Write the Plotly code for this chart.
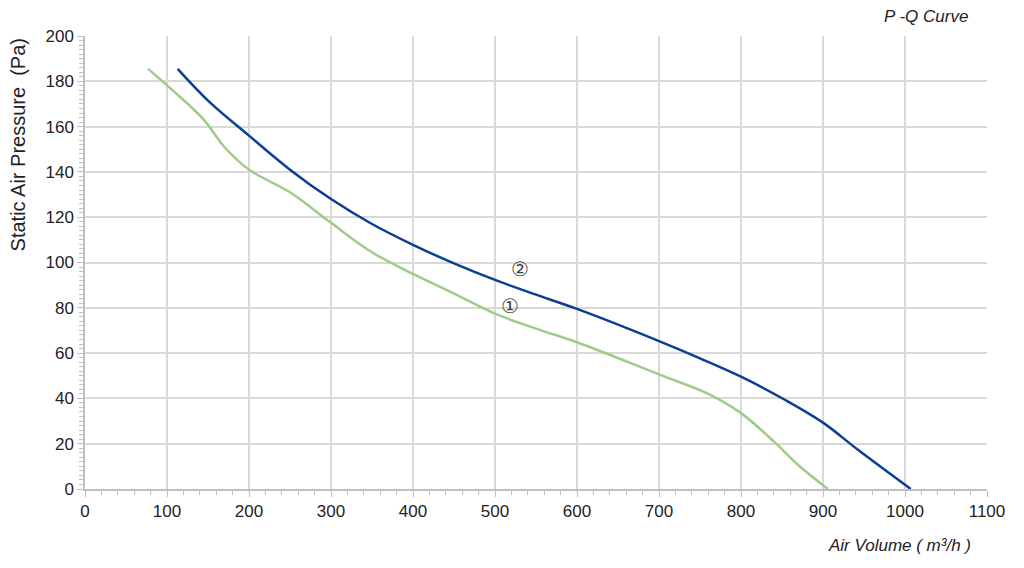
import plotly.graph_objects as go

# curve 1 (green) and curve 2 (blue)
q1 = [77, 110, 145, 170, 200, 250, 300, 350, 400, 450, 500, 550, 600, 700, 760, 800, 840, 870, 906]
p1 = [185.5, 175, 163, 151, 141, 131, 117.5, 104.5, 95, 86.3, 77.4, 70.8, 64.8, 50.6, 42, 33.5, 21, 10.5, 0]

q2 = [113, 150, 200, 250, 300, 350, 400, 450, 500, 550, 600, 700, 750, 800, 854, 900, 943, 1007]
p2 = [185.5, 171.5, 156, 141, 128, 117, 107.8, 99.6, 92.3, 85.8, 79.5, 65.3, 57.7, 49.6, 39.3, 29.3, 17.2, 0]

labels = ["①", "②"]
label_pos = [(518, 81), (530, 97)]

fig = go.Figure()
fig.add_trace(go.Scatter(x=q1, y=p1, mode="lines", line=dict(color="#9fcb8b", width=2.5, shape="spline"),
                         showlegend=False))
fig.add_trace(go.Scatter(x=q2, y=p2, mode="lines", line=dict(color="#0b3f94", width=2.5, shape="spline"),
                         showlegend=False))

for txt, (lx, ly) in zip(labels, label_pos):
    fig.add_annotation(x=lx, y=ly, text=txt, showarrow=False,
                       font=dict(family="DejaVu Serif", size=20, color="#444"))

# title and axis titles
fig.add_annotation(xref="paper", yref="paper", x=0.981, y=1.042, text="<i>P -Q Curve</i>",
                   showarrow=False, xanchor="right", yanchor="middle",
                   font=dict(family="Liberation Sans", size=17, color="#222"))
fig.add_annotation(xref="paper", yref="paper", x=0.985, y=-0.124, text="<i>Air Volume ( m³/h )</i>",
                   showarrow=False, xanchor="right", yanchor="middle",
                   font=dict(family="Liberation Sans", size=17, color="#222"))
fig.add_annotation(xref="paper", yref="paper", x=-0.074, y=0.759, text="Static Air Pressure  (Pa)",
                   showarrow=False, textangle=-90, xanchor="center", yanchor="middle",
                   font=dict(family="Liberation Sans", size=20, color="#222"))

axis_style = dict(showgrid=True, gridcolor="#d9d9d9", gridwidth=1.5, showline=True, linecolor="#bfbfbf",
                  linewidth=1.5, ticks="outside", ticklen=6, tickcolor="#bfbfbf", zeroline=False,
                  tickfont=dict(family="Liberation Sans", size=17, color="#222"))

fig.update_xaxes(range=[0, 1100], dtick=100, tick0=0,
                 minor=dict(dtick=20, ticks="outside", ticklen=4, tickcolor="#bfbfbf", showgrid=False),
                 **axis_style)
fig.update_yaxes(range=[0, 200], dtick=20, tick0=0,
                 minor=dict(dtick=2, ticks="outside", ticklen=4, tickcolor="#bfbfbf", showgrid=False),
                 **axis_style)

# page body adds ~8px offset, so margins are shifted to keep the plot area in place
fig.update_layout(width=1024, height=568, plot_bgcolor="white", paper_bgcolor="white",
                  margin=dict(l=77, r=45, t=28, b=87))

fig.write_html("out.html")
